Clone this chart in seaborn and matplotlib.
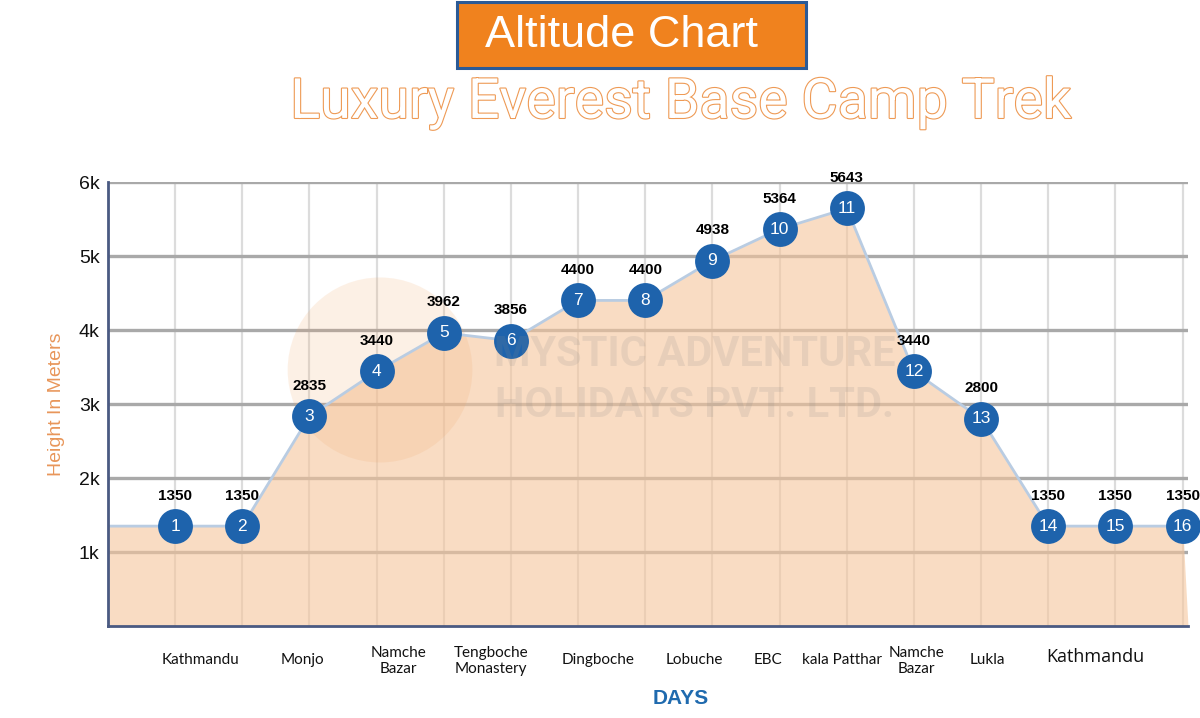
import numpy as np
import pandas as pd
import matplotlib
matplotlib.use("Agg")
import matplotlib.pyplot as plt
import matplotlib.patheffects as pe
from matplotlib.patches import Rectangle, Ellipse
import seaborn as sns

# ---------------- data ----------------
days = list(range(1, 17))
heights = [1350, 1350, 2835, 3440, 3962, 3856, 4400, 4400, 4938, 5364, 5643,
           3440, 2800, 1350, 1350, 1350]
place_labels = ["Kathmandu", "Monjo", "Namche\nBazar", "Tengboche\nMonastery",
                "Dingboche", "Lobuche", "EBC", "kala Patthar", "Namche\nBazar",
                "Lukla", "Kathmandu"]
place_pos = [1.37, 2.9, 4.32, 5.7, 7.3, 8.73, 9.83, 10.93, 12.04, 13.1, 14.7]
ytick_vals = [1000, 2000, 3000, 4000, 5000, 6000]
ytick_labels = ["1k", "2k", "3k", "4k", "5k", "6k"]

df = pd.DataFrame({"day": days, "height": heights})

# ---------------- style ----------------
sns.set_style("white")
plt.rcParams["font.family"] = ["Liberation Sans", "DejaVu Sans"]

fig = plt.figure(figsize=(12, 7.18), dpi=100)
ax = fig.add_axes([0.09, 0.1281, 0.90, 0.6184])
ax.set_xlim(0, 16.08)
ax.set_ylim(0, 6000)

# grid
for d in days:
    ax.axvline(d, color="#DCDCDC", lw=1.6, zorder=0)
for v in ytick_vals:
    ax.axhline(v, color="#A9A9A9", lw=2.4, zorder=0)

# area
xa = np.r_[0, df["day"].to_numpy(), 16.08]
ya = np.r_[heights[0], df["height"].to_numpy(), 0]
ax.fill_between(xa, ya, 0, color="#F6C69C", alpha=0.6, lw=0, zorder=1)
sns.lineplot(x=xa[:-1], y=ya[:-1], ax=ax, color="#B9CCE2", lw=2, zorder=2,
             estimator=None, sort=False)

# watermark
ax.add_patch(Ellipse((4.05, 3460), width=2.75, height=2500,
                     color="#F2A86A", alpha=0.17, zorder=1.5, lw=0))
fig.text(0.579, 0.471, "MYSTIC ADVENTURE\nHOLIDAYS PVT. LTD.", fontsize=30,
         fontweight="bold", family="Roboto",
         color="#8A8A8A", alpha=0.16, ha="center", va="center",
         linespacing=1.3)

# markers
sns.scatterplot(data=df, x="day", y="height", ax=ax, s=540, color="#1E63AC",
                edgecolor="#1E63AC", zorder=4, legend=False, clip_on=False)
for d, h in zip(days, heights):
    ax.text(d, h, str(d), color="white", fontsize=12.5, ha="center",
            va="center", zorder=5, clip_on=False)
    ax.annotate(str(h), (d, h), xytext=(0, 22), textcoords="offset points",
                ha="center", va="center", fontsize=11, fontweight="bold",
                color="black", zorder=5, annotation_clip=False)

# axes
ax.set_yticks(ytick_vals)
ax.set_yticklabels(ytick_labels, fontsize=14, color="#111111")
ax.set_xticks([])
ax.tick_params(axis="y", length=0, pad=6)
for s in ["top", "right"]:
    ax.spines[s].set_visible(False)
for s in ["left", "bottom"]:
    ax.spines[s].set_color("#4A5A82")
    ax.spines[s].set_linewidth(2)
ax.set_xlabel("")
ax.set_ylabel("Height In Meters", fontsize=14, color="#E8965A", labelpad=10)

# place labels
for i, (lab, p) in enumerate(zip(place_labels, place_pos)):
    last = i == len(place_labels) - 1
    yoff = -0.045 if "\n" in lab else -0.06
    ax.text(p, yoff if not last else -0.05, lab, transform=ax.get_xaxis_transform(),
            ha="center", va="top", fontsize=13 if last else 11,
            family="Open Sans" if last else "Lato", color="#111111",
            linespacing=1.2)

fig.text(0.567, 0.027, "DAYS", fontsize=15, fontweight="bold", color="#1F6AAE",
         ha="center", va="center")

# title box
fig.patches.append(Rectangle((457 / 1200, 1 - 68 / 718), 349 / 1200, 66 / 718,
                             transform=fig.transFigure, facecolor="#F0821E",
                             edgecolor="#2B5A96", lw=2.2))
fig.text(0.518, 0.951, "Altitude Chart", fontsize=32.5, color="white",
         ha="center", va="center")

# subtitle outlined
fig.text(0.567, 0.857, "Luxury Everest Base Camp Trek", fontsize=40,
         family="Roboto", color="white", ha="center", va="center",
         path_effects=[pe.Stroke(linewidth=1.6, foreground="#EE9A55"), pe.Normal()])

fig.savefig("out.png", dpi=100)
